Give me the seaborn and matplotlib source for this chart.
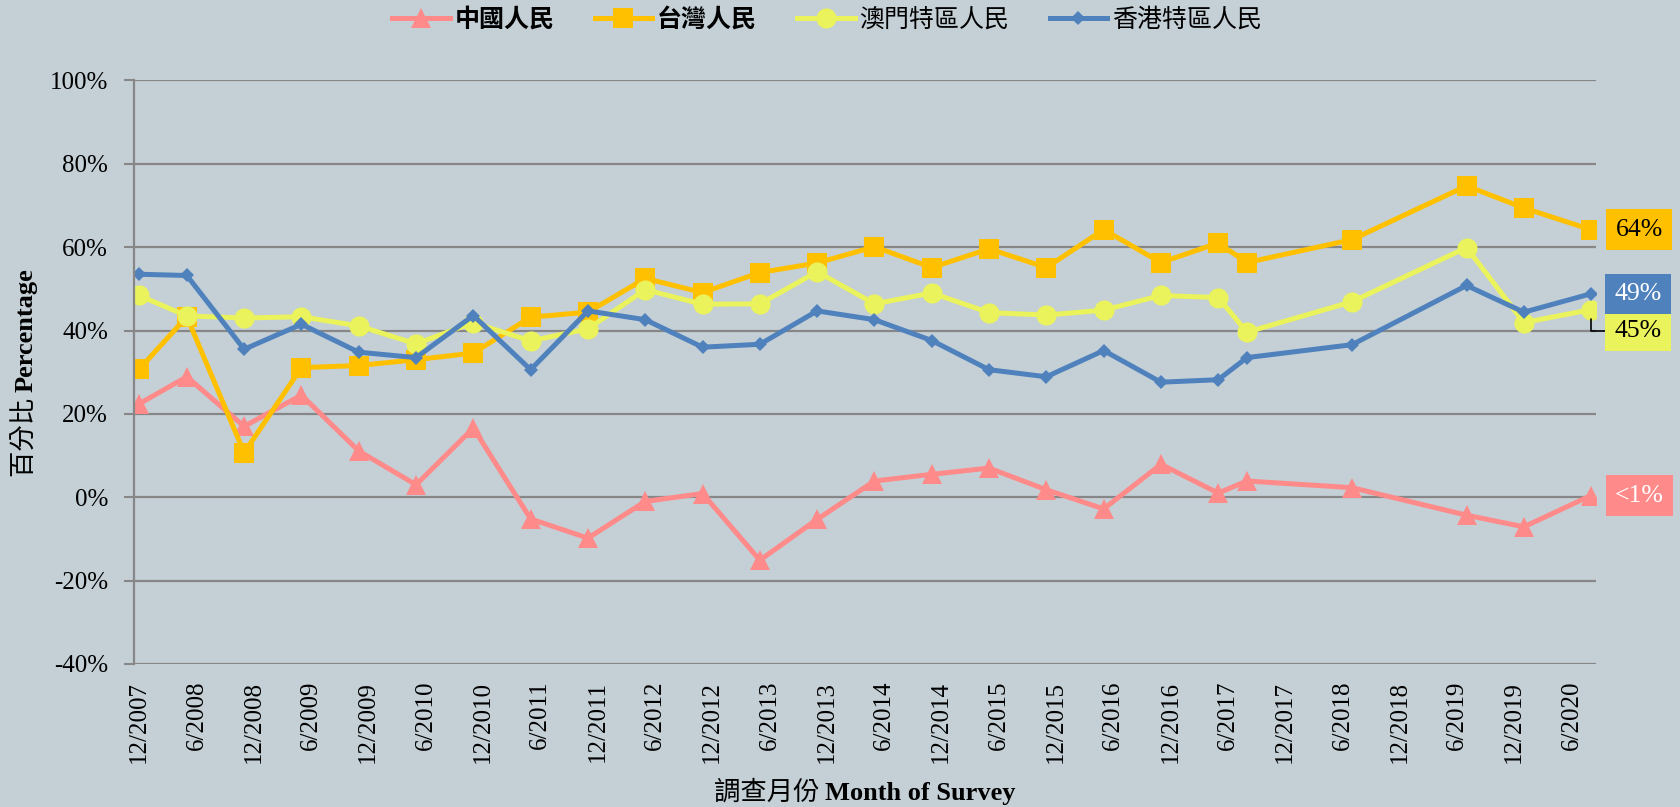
import matplotlib
matplotlib.use("Agg")
import matplotlib.pyplot as plt
from matplotlib.font_manager import FontProperties
import seaborn as sns
import pandas as pd

# survey months (year-month) and net values in percent
survey_months = ["2007-12", "2008-05", "2008-11", "2009-05", "2009-11", "2010-05", "2010-11",
                 "2011-05", "2011-11", "2012-05", "2012-11", "2013-05", "2013-11", "2014-05",
                 "2014-11", "2015-05", "2015-11", "2016-05", "2016-11", "2017-05", "2017-08",
                 "2018-07", "2019-07", "2020-01", "2020-08"]

china = [22.4, 28.9, 17.0, 24.5, 11.1, 3.0, 16.6, -5.2, -9.8, -1.0, 0.9, -15.1, -5.3, 3.9,
         5.5, 7.0, 1.8, -2.8, 7.9, 1.0, 3.9, 2.3, -4.3, -7.1, 0.4]
taiwan = [30.7, 43.3, 10.7, 31.1, 31.6, 33.0, 34.6, 43.2, 44.4, 52.5, 49.1, 53.9, 56.2, 60.1,
          55.1, 59.6, 55.1, 64.2, 56.3, 61.0, 56.3, 61.8, 74.7, 69.4, 64.2]
macau = [48.4, 43.5, 43.0, 43.3, 41.1, 36.8, 41.9, 37.5, 40.4, 49.8, 46.3, 46.4, 54.1, 46.4,
         49.0, 44.3, 43.7, 44.9, 48.4, 47.9, 39.6, 46.9, 59.9, 41.9, 45.0]
hongkong = [53.5, 53.2, 35.5, 41.5, 34.8, 33.5, 43.6, 30.6, 44.7, 42.6, 36.0, 36.7, 44.7, 42.6,
            37.6, 30.6, 28.9, 35.2, 27.6, 28.2, 33.5, 36.6, 50.8, 44.4, 48.8]

series_names = ["中國人民", "台灣人民", "澳門特區人民", "香港特區人民"]
end_labels = ["<1%", "64%", "45%", "49%"]

tick_labels = ["12/2007", "6/2008", "12/2008", "6/2009", "12/2009", "6/2010", "12/2010",
               "6/2011", "12/2011", "6/2012", "12/2012", "6/2013", "12/2013", "6/2014",
               "12/2014", "6/2015", "12/2015", "6/2016", "12/2016", "6/2017", "12/2017",
               "6/2018", "12/2018", "6/2019", "12/2019", "6/2020"]
y_ticks = [-40, -20, 0, 20, 40, 60, 80, 100]


def month_index(s):
    y, m = map(int, s.split("-"))
    return (y - 2007) * 12 + (m - 12)


x = [month_index(s) for s in survey_months]
df = pd.DataFrame({"month": x, "中國人民": china, "台灣人民": taiwan,
                   "澳門特區人民": macau, "香港特區人民": hongkong})
df = df.melt(id_vars="month", var_name="group", value_name="value")

bg = "#C4D0D6"
grid_col = "#878787"
colors = ["#FF8A8A", "#FFC000", "#EAF25C", "#4F81BD"]
markers = ["^", "s", "o", "D"]
msizes = [14.5, 14.5, 14.5, 7.5]

plt.rcParams["font.family"] = ["Liberation Serif", "Noto Sans CJK TC"]

W, H = 1680, 807
fig = plt.figure(figsize=(W / 100, H / 100), dpi=100, facecolor=bg)
ax = fig.add_axes([134.3 / W, 1 - 664 / H, (1595.5 - 134.3) / W, (664 - 80.4) / H])
ax.set_facecolor(bg)

for name, c, m, ms in zip(series_names, colors, markers, msizes):
    sns.lineplot(data=df[df["group"] == name], x="month", y="value", ax=ax,
                 color=c, marker=m, markersize=ms, markeredgewidth=0,
                 linewidth=3.6, label=name, estimator=None, errorbar=None)

if ax.get_legend() is not None:
    ax.get_legend().remove()

ax.set_xlim(-0.5, 152.5)
ax.set_ylim(-40, 100)
ax.set_xticks(range(0, 6 * len(tick_labels), 6))
ax.set_xticklabels(tick_labels, rotation=90, fontsize=18)
ax.set_yticks(y_ticks)
ax.set_yticklabels([f"{v}%" for v in y_ticks], fontsize=18)
ax.tick_params(axis="x", length=0, pad=12)
ax.tick_params(axis="y", length=7, width=1.5, color=grid_col, pad=12)
ax.set_xlabel("")
ax.set_ylabel("")
ax.grid(axis="y", color=grid_col, linewidth=1.6)
ax.grid(axis="x", visible=False)
ax.set_axisbelow(True)
for side in ["top", "right", "bottom"]:
    ax.spines[side].set_visible(False)
ax.spines["left"].set_color(grid_col)
ax.spines["left"].set_linewidth(1.6)

# data labels at the last survey
last_x = x[-1]
label_styles = [
    (china[-1], colors[0], "white", (35, 0)),
    (taiwan[-1], colors[1], "black", (35, 0)),
    (macau[-1], colors[2], "black", (34, -15)),
    (hongkong[-1], colors[3], "white", (34, 0)),
]
for txt, (val, fc, tc, off) in zip(end_labels, label_styles):
    kw = {}
    if off[1] != 0:
        kw["arrowprops"] = dict(arrowstyle="-", color="black", lw=1.2,
                                connectionstyle="angle,angleA=0,angleB=90,rad=0",
                                shrinkA=0, shrinkB=7)
    ax.annotate(txt, xy=(last_x, val), xytext=off, textcoords="offset points",
                ha="center", va="center", fontsize=18.5, color=tc,
                family="Liberation Serif", annotation_clip=False,
                bbox=dict(boxstyle="square,pad=0.36", fc=fc, ec="none"), **kw)

# legend
handles, labels = ax.get_legend_handles_labels()
leg = fig.legend(handles, labels, loc="center", bbox_to_anchor=(827 / W, 1 - 20 / H),
                 ncol=4, frameon=False, prop=FontProperties(family=["Noto Sans CJK TC"], size=18),
                 handlelength=2.3, handletextpad=0.2, columnspacing=1.6)
for t in leg.get_texts()[:2]:
    t.set_fontweight("bold")

# axis titles: CJK regular + English bold
r = fig.canvas.get_renderer()
cjk = ["Noto Sans CJK TC", "Liberation Serif"]
xt1 = fig.text(0, 0, "調查月份 ", fontsize=19, family=cjk, ha="left", va="baseline")
xt2 = fig.text(0, 0, "Month of Survey", fontsize=19, weight="bold",
               family="Liberation Serif", ha="left", va="baseline")
w1 = xt1.get_window_extent(r).width
w2 = xt2.get_window_extent(r).width
cx = (134.3 + 1595.5) / 2
x0 = cx - (w1 + w2) / 2
xt1.set_position((x0 / W, 1 - 800 / H))
xt2.set_position(((x0 + w1) / W, 1 - 800 / H))

yt1 = fig.text(0, 0, "百分比 ", fontsize=19, family=cjk, rotation=90,
               rotation_mode="anchor", ha="left", va="baseline")
yt2 = fig.text(0, 0, "Percentage", fontsize=19, weight="bold", family="Liberation Serif",
               rotation=90, rotation_mode="anchor", ha="left", va="baseline")
h1 = yt1.get_window_extent(r).height
h2 = yt2.get_window_extent(r).height
cy = H - (80.4 + 664) / 2
y0 = cy - (h1 + h2) / 2
yt1.set_position((33 / W, y0 / H))
yt2.set_position((33 / W, (y0 + h1) / H))

fig.savefig("out.png", dpi=100, facecolor=bg)
